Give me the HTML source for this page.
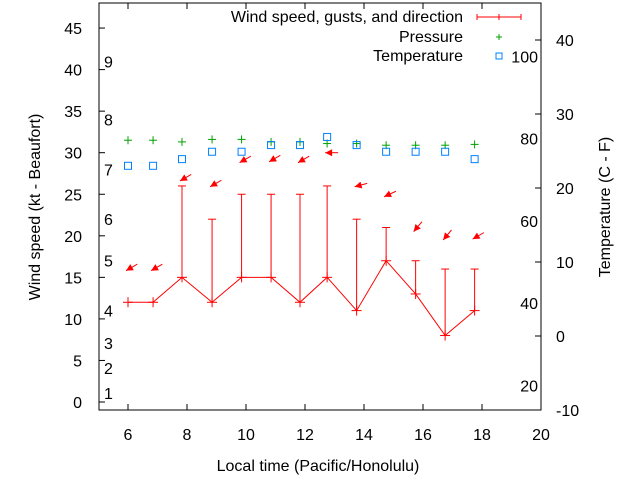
<!DOCTYPE html>
<html><head><meta charset="utf-8"><style>
html,body{margin:0;padding:0;background:#fff}
svg{display:block;font-family:"Liberation Sans",sans-serif}
</style></head><body>
<svg id="c" width="640" height="480" xmlns="http://www.w3.org/2000/svg"></svg>
<script>
const times=[6,6.85,7.83,8.85,9.85,10.85,11.83,12.75,13.75,14.75,15.75,16.75,17.75];
const windSpeed=[12,12,15,12,15,15,12,15,11,17,13,8,11];
const gusts=[null,null,26,22,25,25,25,26,22,21,17,16,16];
const pressure=[31.5,31.5,31.3,31.6,31.6,31.3,31.3,31.1,31.1,30.9,30.9,30.9,31.0];
const tempC=[23,23,23.9,24.9,24.9,25.8,25.8,26.9,25.8,24.9,24.9,24.9,23.9];
const dirFrom=[60,60,60,60,60,60,60,90,75,65,40,40,60];
const dirY=[15.8,15.8,26.6,25.9,28.8,28.9,28.8,30,25.9,24.7,20.5,19.5,19.6];
const xTicks=[6,8,10,12,14,16,18,20];
const yTicks=[0,5,10,15,20,25,30,35,40,45];
const y2Ticks=[-10,0,10,20,30,40];
const fLabels=[20,40,60,80,100];
const beaufort=[[1,1.1],[2,4.1],[3,7.1],[4,11],[5,17],[6,22],[7,28],[8,34],[9,41]];
const L=99,R=541,T=3,B=410;
const X=v=>98.5+(v-5)*29.5;
const Y=v=>402-v*8.31;
const Y2=v=>336-v*7.4;
const YF=f=>Y2((f-32)*5/9);
const svg=document.getElementById('c');
function el(tag,a,parent){const e=document.createElementNS('http://www.w3.org/2000/svg',tag);for(const k in a)e.setAttribute(k,a[k]);(parent||svg).appendChild(e);return e;}
function txt(s,x,y,anchor,extra){const t=el('text',Object.assign({x:x,y:y,'font-size':16,fill:'#000','text-anchor':anchor||'middle'},extra||{}));t.textContent=s;return t;}
let f=el('rect',{x:L,y:T,width:R-L,height:B-T,fill:'none',stroke:'#000','stroke-width':1});


xTicks.forEach(v=>{const x=X(v);
 el('line',{x1:x,y1:B,x2:x,y2:B-6,stroke:'#000'});el('line',{x1:x,y1:T,x2:x,y2:T+6,stroke:'#000'});
 const t=txt(String(v),x,B+30);
 
 });
yTicks.forEach(v=>{const y=Y(v);
 el('line',{x1:L,y1:y,x2:L+6,y2:y,stroke:'#000'});
 const t=txt(String(v),L-17,y+6,'end');
 
 });
y2Ticks.forEach(v=>{const y=Y2(v);
 el('line',{x1:R,y1:y,x2:R-6,y2:y,stroke:'#000'});
 const t=txt(String(v),R+15,y+6,'start');
 
 });
fLabels.forEach(v=>{const t=txt(String(v),538,YF(v)+6,'end');
 
 });
beaufort.forEach(b=>{const t=txt(String(b[0]),104,Y(b[1])+6,'start');
 
 });
let t1=txt('Local time (Pacific/Honolulu)',318,471);


let t2=txt('Wind speed (kt - Beaufort)',0,0,'middle',{transform:'translate(40,207) rotate(-90)'});


let t3=txt('Temperature (C - F)',0,0,'middle',{transform:'translate(610,207) rotate(-90)'});


const pts=times.map((t,i)=>X(t)+','+Y(windSpeed[i])).join(' ');
let pl=el('polyline',{points:pts,fill:'none',stroke:'#f00','stroke-width':1});


times.forEach((t,i)=>{const x=X(t),y=Y(windSpeed[i]);
 const g=el('g',{stroke:'#f00','stroke-width':1});
 
 
 el('line',{x1:x-5,y1:y,x2:x+5,y2:y},g);el('line',{x1:x,y1:y-5,x2:x,y2:y+5},g);
 if(gusts[i]!=null){const gy=Y(gusts[i]);el('line',{x1:x,y1:y,x2:x,y2:gy},g);el('line',{x1:x-4,y1:gy,x2:x+4,y2:gy},g);}
});
times.forEach((t,i)=>{const x=X(t)-2,y=Y(dirY[i]);const a=(dirFrom[i])*Math.PI/180;
 const dx=Math.sin(a),dy=-Math.cos(a);const len=13;
 const tx=x+dx*len,ty=y+dy*len;
 const g=el('g',{});
 
 
 el('line',{x1:tx,y1:ty,x2:x,y2:y,stroke:'#f00','stroke-width':1},g);
 const px=-dy,py=dx,h=7,w=3.5;
 el('polygon',{points:`${x},${y} ${x+dx*h+px*w},${y+dy*h+py*w} ${x+dx*h-px*w},${y+dy*h-py*w}`,fill:'#f00'},g);
});
times.forEach((t,i)=>{const x=X(t),y=Y(pressure[i]);const c='#00a000';
 const g=el('g',{stroke:c});
 
 
 el('line',{x1:x-4,y1:y,x2:x+4,y2:y},g);el('line',{x1:x,y1:y-4,x2:x,y2:y+4},g);});
times.forEach((t,i)=>{const x=X(t),y=Y2(tempC[i]);const c='#0080ff';
 const r=el('rect',{x:x-3.5,y:y-3.5,width:7,height:7,fill:'none',stroke:c});
 
 });
let l1=txt('Wind speed, gusts, and direction',463,22,'end');


el('line',{x1:477,y1:17,x2:521,y2:17,stroke:'#f00'});el('line',{x1:477,y1:14,x2:477,y2:20,stroke:'#f00'});el('line',{x1:521,y1:14,x2:521,y2:20,stroke:'#f00'});el('line',{x1:499,y1:14,x2:499,y2:20,stroke:'#f00'});
let l2=txt('Pressure',463,42,'end');


el('line',{x1:496,y1:37,x2:502,y2:37,stroke:'#00a000'});el('line',{x1:499,y1:34,x2:499,y2:40,stroke:'#00a000'});
let l3=txt('Temperature',463,61,'end');


el('rect',{x:496,y:53,width:6,height:6,fill:'none',stroke:'#0080ff'});
</script>
</body></html>
